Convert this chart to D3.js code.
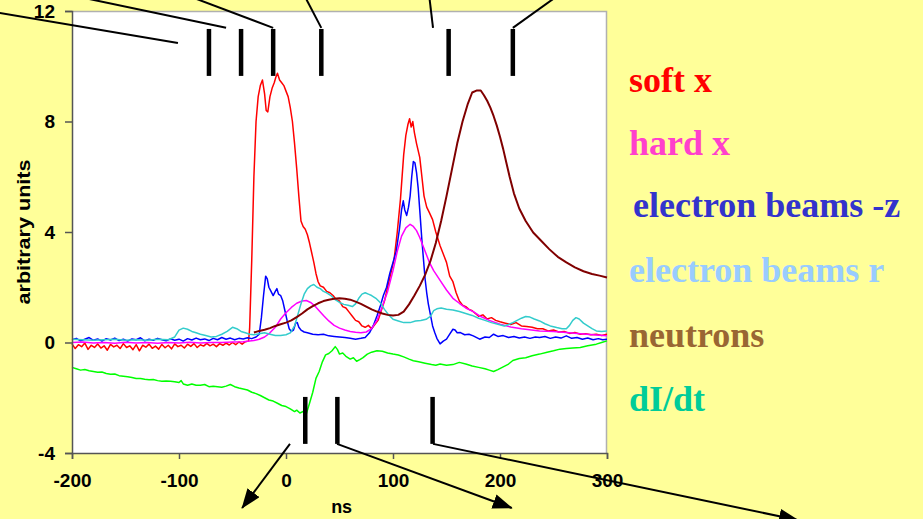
<!DOCTYPE html>
<html>
<head>
<meta charset="utf-8">
<script src="https://cdn.jsdelivr.net/npm/d3@7"></script>
<style>
  body { margin: 0; background: #FFFF99; }
  svg { display: block; }
</style>
</head>
<body>
<script>
// pulse signals, values (ns, arbitrary units)
var softX = [[-200,-0.05],[-197,-0.22],[-194,-0.08],[-191,-0.15],[-188,-0.02],[-185,-0.25],[-182,-0.1],[-179,-0.18],[-176,-0.05],[-173,-0.2],[-170,-0.12],[-167,-0.28],[-164,-0.07],[-161,-0.16],[-158,-0.1],[-155,-0.22],[-152,-0.04],[-149,-0.18],[-146,-0.12],[-143,-0.26],[-140,-0.08],[-137,-0.3],[-134,-0.1],[-131,-0.17],[-128,-0.06],[-125,-0.21],[-122,-0.13],[-119,-0.24],[-116,-0.07],[-113,-0.19],[-110,-0.1],[-107,-0.23],[-104,-0.05],[-101,-0.15],[-98,-0.1],[-95,-0.2],[-92,-0.06],[-89,-0.14],[-86,-0.04],[-83,-0.18],[-80,-0.08],[-77,-0.13],[-74,-0.03],[-71,-0.12],[-68,-0.06],[-65,-0.15],[-62,-0.04],[-59,-0.1],[-56,-0.02],[-53,-0.09],[-50,0.0],[-47,-0.08],[-44,0.02],[-41,-0.06],[-38,0.03],[-35,0.05],
  [-34,0.5],[-32,3.0],[-30,6.0],[-28,8.0],[-26,8.9],[-24,9.3],[-22,9.5],[-20,9.0],[-18.5,8.4],[-17,8.35],[-15,8.9],[-13,9.2],[-11,9.4],[-9.5,9.6],[-8,9.75],[-6,9.5],[-4,9.4],[-2,9.3],[0,9.1],[2,8.9],[4,8.5],[6,8.0],[8,7.2],[10,6.3],[12,5.3],[14,4.4],[16,4.2],[18,4.1],[20,3.9],[22,3.6],[24,3.25],[26,2.9],[28,2.5],[30,2.2],[32,2.05],[35,2.0],[38,1.85],[41,1.8],[44,1.7],[47,1.55],[50,1.5],[53,1.3],[56,1.25],[59,1.1],[62,0.95],[65,0.8],[68,0.75],[71,0.6],[74,0.55],[77,0.62],[80,0.5],[83,0.65],[86,0.8],[89,1.15],[92,1.5],[95,2.0],[98,2.5],[101,3.0],[104,4.0],[107,5.2],[110,6.8],[112,7.5],[114,7.9],[115.5,8.1],[117,7.8],[118.5,8.0],[120,7.6],[122,7.2],[125,6.7],[127,6.0],[129,5.3],[131.5,4.9],[134,4.7],[137,4.45],[140,4.0],[144,3.5],[147,3.2],[150,2.9],[153,2.4],[156,2.2],[159,1.8],[162,1.5],[165,1.35],[168,1.3],[171,1.2],[174,1.15],[177,1.05],[180,0.95],[184,1.0],[188,0.85],[192,0.9],[196,0.8],[200,0.75],[205,0.7],[210,0.65],[215,0.72],[220,0.6],[225,0.58],[230,0.55],[235,0.5],[240,0.5],[245,0.42],[250,0.45],[255,0.38],[260,0.4],[265,0.33],[270,0.36],[275,0.3],[280,0.32],[285,0.28],[290,0.3],[295,0.25],[300,0.3]];

var hardX = [[-200,0.0],[-190,0.02],[-180,-0.02],[-170,0.0],[-160,-0.03],[-150,0.01],[-140,-0.02],[-130,0.0],[-120,-0.03],[-110,0.0],[-100,-0.02],[-90,0.01],[-80,-0.02],[-70,0.0],[-60,0.0],[-50,0.02],[-40,0.03],[-30,0.07],[-25,0.12],[-20,0.2],[-15,0.35],[-10,0.55],[-5,0.85],[0,1.08],[5,1.27],[10,1.42],[15,1.5],[19,1.52],[23,1.45],[27,1.32],[31,1.15],[35,0.98],[40,0.78],[45,0.62],[50,0.52],[55,0.45],[60,0.4],[65,0.37],[70,0.35],[75,0.38],[80,0.5],[85,0.8],[90,1.3],[95,1.85],[100,2.6],[104,3.3],[108,3.85],[112,4.15],[116,4.28],[119,4.2],[122,4.05],[125,3.8],[128,3.5],[131,3.2],[134,2.9],[138,2.6],[144,2.25],[150,1.9],[156,1.6],[162,1.42],[168,1.25],[175,1.12],[181,0.96],[190,0.8],[200,0.66],[210,0.56],[220,0.5],[237,0.42],[250,0.4],[262,0.36],[275,0.32],[290,0.27],[300,0.24]];

var beamsZ = [[-200,0.1],[-196,0.15],[-192,0.06],[-188,0.12],[-184,0.18],[-180,0.08],[-176,0.13],[-172,0.05],[-168,0.14],[-164,0.09],[-160,0.16],[-156,0.07],[-152,0.12],[-148,0.05],[-144,0.13],[-140,0.1],[-136,0.17],[-132,0.06],[-128,0.12],[-124,0.08],[-120,0.15],[-116,0.1],[-112,0.06],[-108,0.13],[-104,0.08],[-100,0.12],[-96,0.05],[-92,0.14],[-88,0.09],[-84,0.16],[-80,0.1],[-76,0.13],[-72,0.07],[-68,0.15],[-64,0.1],[-60,0.18],[-56,0.12],[-52,0.16],[-48,0.1],[-44,0.15],[-40,0.13],[-36,0.17],[-32,0.14],[-28,0.2],[-25,0.3],[-23,0.9],[-21,1.7],[-19,2.4],[-17.5,2.3],[-16,2.0],[-14,1.85],[-12,1.7],[-10,1.85],[-8.5,1.95],[-7,1.75],[-5,1.7],[-3,1.5],[-1,1.15],[1,0.8],[3,0.5],[5,0.4],[7,0.45],[9,0.7],[10.5,0.72],[12,0.55],[14,0.45],[17,0.38],[20,0.35],[25,0.3],[30,0.28],[35,0.3],[40,0.24],[45,0.22],[50,0.2],[55,0.18],[60,0.15],[65,0.12],[70,0.15],[74,0.18],[78,0.35],[82,0.65],[85,0.96],[88,1.3],[91,1.7],[94,2.0],[97,2.5],[100,2.9],[103,3.3],[106,4.1],[108,4.8],[109.6,5.13],[111,4.8],[112.8,4.6],[114.5,4.9],[116,5.3],[117.5,6.0],[119,6.55],[120.5,6.5],[122,6.15],[123.5,5.6],[125,4.8],[127,3.7],[128.5,3.0],[130,2.3],[131.5,1.8],[133,1.4],[135,1.0],[137,0.6],[139,0.36],[141,0.15],[144,-0.05],[147,0.05],[150,0.12],[153,0.3],[156,0.48],[158,0.45],[160,0.35],[163,0.36],[167,0.28],[171,0.3],[175,0.24],[181,0.12],[186,0.2],[190,0.18],[194,0.3],[198,0.22],[203,0.25],[208,0.18],[213,0.22],[218,0.16],[223,0.2],[228,0.15],[233,0.2],[237,0.18],[242,0.22],[247,0.15],[252,0.2],[257,0.16],[262,0.24],[267,0.15],[272,0.18],[277,0.12],[282,0.16],[287,0.1],[292,0.14],[296,0.1],[300,0.12]];

var beamsR = [[-200,0.12],[-190,0.1],[-180,0.08],[-170,0.1],[-160,0.12],[-150,0.08],[-140,0.1],[-130,0.08],[-120,0.12],[-110,0.1],[-104,0.2],[-100,0.45],[-96,0.52],[-92,0.48],[-88,0.4],[-84,0.35],[-80,0.3],[-75,0.25],[-70,0.2],[-65,0.22],[-60,0.3],[-55,0.4],[-50,0.55],[-46,0.5],[-42,0.4],[-38,0.35],[-34,0.3],[-30,0.28],[-25,0.32],[-20,0.35],[-15,0.3],[-10,0.25],[-5,0.25],[0,0.28],[4,0.35],[8,0.6],[11,1.0],[14,1.4],[17,1.75],[20,1.95],[23,2.05],[26,2.1],[29,2.0],[32,1.95],[35,1.85],[38,1.8],[42,1.7],[46,1.55],[50,1.45],[54,1.38],[58,1.35],[62,1.3],[65,1.4],[68,1.6],[71,1.75],[74,1.8],[77,1.75],[80,1.7],[84,1.6],[88,1.45],[92,1.2],[96,1.0],[100,0.84],[105,0.78],[110,0.72],[116,0.72],[121,0.78],[126,0.8],[131,0.84],[135,0.95],[138,1.15],[141,1.22],[145,1.25],[150,1.2],[156,1.18],[162,1.12],[168,1.05],[174,0.98],[180,0.88],[186,0.8],[192,0.72],[198,0.66],[204,0.6],[208,0.65],[212,0.72],[216,0.8],[220,0.88],[224,0.94],[228,0.92],[232,0.85],[237,0.78],[242,0.68],[247,0.6],[253,0.54],[258,0.5],[262,0.5],[265,0.62],[268,0.8],[271,0.9],[274,0.85],[278,0.7],[282,0.6],[286,0.5],[290,0.42],[295,0.4],[300,0.42]];

var neutrons = [[-30,0.36],[-25,0.42],[-20,0.46],[-15,0.52],[-10,0.6],[-5,0.66],[0,0.72],[5,0.8],[10,0.92],[15,1.05],[20,1.2],[25,1.32],[30,1.42],[35,1.5],[40,1.55],[45,1.58],[50,1.6],[55,1.58],[60,1.55],[65,1.48],[70,1.4],[75,1.3],[80,1.2],[85,1.12],[90,1.05],[95,1.0],[100,0.98],[105,1.0],[110,1.12],[115,1.38],[120,1.7],[125,2.05],[130,2.45],[135,2.95],[140,3.6],[145,4.4],[150,5.3],[155,6.25],[160,7.2],[165,8.0],[170,8.65],[174,9.05],[178,9.12],[182,9.12],[185,8.95],[188,8.75],[191,8.5],[194,8.2],[197,7.85],[200,7.45],[203,7.0],[206,6.5],[209,6.0],[213,5.4],[218,4.85],[224,4.4],[231,3.98],[238,3.7],[246,3.38],[254,3.1],[262,2.9],[270,2.72],[278,2.58],[286,2.48],[293,2.42],[300,2.35]];

var dIdt = [[-200,-0.9],[-196,-0.95],[-192,-1.0],[-188,-0.98],[-184,-1.02],[-180,-1.05],[-176,-1.08],[-172,-1.07],[-168,-1.12],[-164,-1.15],[-160,-1.14],[-156,-1.2],[-152,-1.22],[-148,-1.24],[-144,-1.27],[-140,-1.3],[-136,-1.3],[-132,-1.33],[-128,-1.35],[-124,-1.34],[-120,-1.38],[-116,-1.4],[-112,-1.39],[-108,-1.4],[-104,-1.42],[-100,-1.45],[-98,-1.38],[-96,-1.5],[-92,-1.55],[-88,-1.5],[-84,-1.55],[-80,-1.55],[-76,-1.52],[-72,-1.6],[-68,-1.58],[-64,-1.6],[-60,-1.62],[-56,-1.58],[-52,-1.52],[-48,-1.6],[-44,-1.65],[-40,-1.68],[-36,-1.72],[-32,-1.8],[-28,-1.85],[-24,-1.92],[-20,-2.0],[-16,-2.08],[-12,-2.12],[-8,-2.2],[-4,-2.28],[0,-2.32],[4,-2.4],[8,-2.5],[10,-2.45],[13,-2.55],[16,-2.5],[19,-2.58],[22,-2.2],[25,-1.8],[28,-1.3],[31,-1.05],[34,-0.7],[37,-0.45],[40,-0.4],[43,-0.3],[46,-0.15],[48,-0.25],[50,-0.42],[53,-0.38],[56,-0.5],[60,-0.6],[63,-0.55],[66,-0.68],[69,-0.62],[72,-0.55],[76,-0.42],[80,-0.35],[85,-0.3],[90,-0.32],[95,-0.38],[100,-0.42],[105,-0.45],[110,-0.52],[115,-0.6],[119,-0.66],[124,-0.7],[130,-0.75],[136,-0.8],[140,-0.82],[144,-0.78],[150,-0.82],[156,-0.8],[162,-0.72],[168,-0.78],[174,-0.85],[180,-0.9],[186,-0.95],[190,-1.0],[194,-1.05],[198,-0.98],[203,-0.88],[208,-0.78],[212,-0.65],[218,-0.58],[224,-0.55],[230,-0.48],[237,-0.42],[244,-0.35],[250,-0.3],[256,-0.24],[262,-0.22],[268,-0.2],[275,-0.18],[282,-0.12],[290,-0.06],[295,0.0],[300,0.06]];

var seriesNames = ["soft x", "hard x", "electron beams -z", "electron beams r", "neutrons", "dI/dt"];
var lineColors = ["#FF0000", "#FF00FF", "#0000FF", "#33CCCC", "#800000", "#00FF00"];
var legendColors = ["#FF0000", "#FF40CC", "#3333CC", "#99CCFF", "#996633", "#00CC99"];

var xTicks = [-200, -100, 0, 100, 200, 300];
var yTicks = [-4, 0, 4, 8, 12];

// timing marks (ns) and their leader lines [x1, y1, x2, y2] in data units
var topMarks = [-72, -42, -12, 33, 152, 212];
var bottomMarks = [18, 48, 137];
var topLeaders = [[-272, 11.96, -101, 10.84], [-192, 12.5, -56, 11.39], [-88, 12.5, -12, 11.39],
  [18, 12.5, 33, 11.39], [134, 12.5, 137.4, 11.39], [252, 12.5, 212, 11.39]];
var bottomArrows = [[3.7, -3.67, -41, -5.99], [47.7, -3.67, 211, -5.99], [137.4, -3.67, 478.5, -6.43]];

var svgWidth = 923, svgHeight = 519;
var margin = { top: 11, right: 316, bottom: 66, left: 72 };
var width = svgWidth - margin.left - margin.right;
var height = svgHeight - margin.top - margin.bottom;

var svg = d3.select("body").append("svg")
  .attr("width", svgWidth)
  .attr("height", svgHeight);

svg.append("rect")
  .attr("width", svgWidth).attr("height", svgHeight)
  .attr("fill", "#FFFF99");

var defs = svg.append("defs");
defs.append("marker")
  .attr("id", "arrow")
  .attr("markerUnits", "userSpaceOnUse")
  .attr("viewBox", "0 0 20 15")
  .attr("refX", 19).attr("refY", 7.5)
  .attr("markerWidth", 20).attr("markerHeight", 15)
  .attr("orient", "auto")
  .append("path")
  .attr("d", "M0,0 L20,7.5 L0,15 Z")
  .attr("fill", "#000");

var chartGroup = svg.append("g")
  .attr("transform", `translate(${margin.left}, ${margin.top})`);

var xScale = d3.scaleLinear().domain([-200, 300]).range([0, width]);
var yScale = d3.scaleLinear().domain([-4, 12]).range([height, 0]);

// plot area
chartGroup.append("rect")
  .attr("width", width).attr("height", height)
  .attr("fill", "#fff");
chartGroup.append("path")
  .attr("d", `M0,0.5 H${width - 0.5} V${height}`)
  .attr("fill", "none")
  .attr("stroke", "#b0b0b0")
  .attr("stroke-width", 1.5);

var line = d3.line()
  .x(d => xScale(d[0]))
  .y(d => yScale(d[1]));

var allSeries = [softX, hardX, beamsZ, beamsR, neutrons, dIdt];
var drawOrder = [0, 2, 1, 3, 4, 5];
drawOrder.forEach(function(i) {
  chartGroup.append("path")
    .datum(allSeries[i])
    .attr("fill", "none")
    .attr("stroke", lineColors[i])
    .attr("stroke-width", i === 4 ? 2 : 1.5)
    .attr("stroke-linejoin", "round")
    .attr("d", line);
});

// axes (plain hyphen for negatives, like the original)
var leftAxis = d3.axisLeft(yScale).tickValues(yTicks).tickSize(7).tickPadding(10)
  .tickFormat(d => String(d));
var bottomAxis = d3.axisBottom(xScale).tickValues(xTicks).tickSize(6).tickPadding(15)
  .tickFormat(d => String(d));

var yAxis = chartGroup.append("g").call(leftAxis);
var xAxis = chartGroup.append("g")
  .attr("transform", `translate(0, ${height})`)
  .call(bottomAxis);

[xAxis, yAxis].forEach(function(ax) {
  ax.selectAll("path, line").attr("stroke", "#555").attr("stroke-width", 1.5);
  ax.selectAll("text")
    .attr("fill", "#000")
    .style("font-family", "'Liberation Sans', Arial, sans-serif")
    .style("font-weight", "bold")
    .style("font-size", "19px");
});

chartGroup.append("text")
  .attr("transform", `translate(${24 - margin.left}, ${232 - margin.top}) rotate(-90)`)
  .attr("text-anchor", "middle")
  .attr("dy", "0.35em")
  .attr("textLength", 145)
  .attr("lengthAdjust", "spacingAndGlyphs")
  .style("font-family", "'Liberation Sans', Arial, sans-serif")
  .style("font-weight", "bold")
  .style("font-size", "18px")
  .text("arbitrary units");

chartGroup.append("text")
  .attr("x", xScale(52))
  .attr("y", height + 60)
  .attr("text-anchor", "middle")
  .style("font-family", "'Liberation Sans', Arial, sans-serif")
  .style("font-weight", "bold")
  .style("font-size", "18px")
  .text("ns");

// timing marks and leader lines
var annot = chartGroup.append("g");
topMarks.forEach(function(t) {
  annot.append("line")
    .attr("x1", xScale(t)).attr("x2", xScale(t))
    .attr("y1", yScale(11.35)).attr("y2", yScale(9.65))
    .attr("stroke", "#000").attr("stroke-width", 4.5);
});
bottomMarks.forEach(function(t) {
  annot.append("line")
    .attr("x1", xScale(t)).attr("x2", xScale(t))
    .attr("y1", yScale(-1.97)).attr("y2", yScale(-3.67))
    .attr("stroke", "#000").attr("stroke-width", 4.5);
});
topLeaders.forEach(function(l) {
  annot.append("line")
    .attr("x1", xScale(l[0])).attr("y1", yScale(l[1]))
    .attr("x2", xScale(l[2])).attr("y2", yScale(l[3]))
    .attr("stroke", "#000").attr("stroke-width", 2);
});
bottomArrows.forEach(function(l) {
  annot.append("line")
    .attr("x1", xScale(l[0])).attr("y1", yScale(l[1]))
    .attr("x2", xScale(l[2])).attr("y2", yScale(l[3]))
    .attr("stroke", "#000").attr("stroke-width", 2)
    .attr("marker-end", "url(#arrow)");
});

// legend
var legendY = [92, 155, 217, 282, 347, 411];
var legendX = [629, 629, 633, 629, 629, 629];
svg.append("g").selectAll("text")
  .data(seriesNames)
  .enter()
  .append("text")
  .attr("x", (d, i) => legendX[i])
  .attr("y", (d, i) => legendY[i])
  .attr("fill", (d, i) => legendColors[i])
  .style("font-family", "'Liberation Serif', 'Times New Roman', serif")
  .style("font-weight", "bold")
  .style("font-size", "36px")
  .text(d => d);
</script>
</body>
</html>
